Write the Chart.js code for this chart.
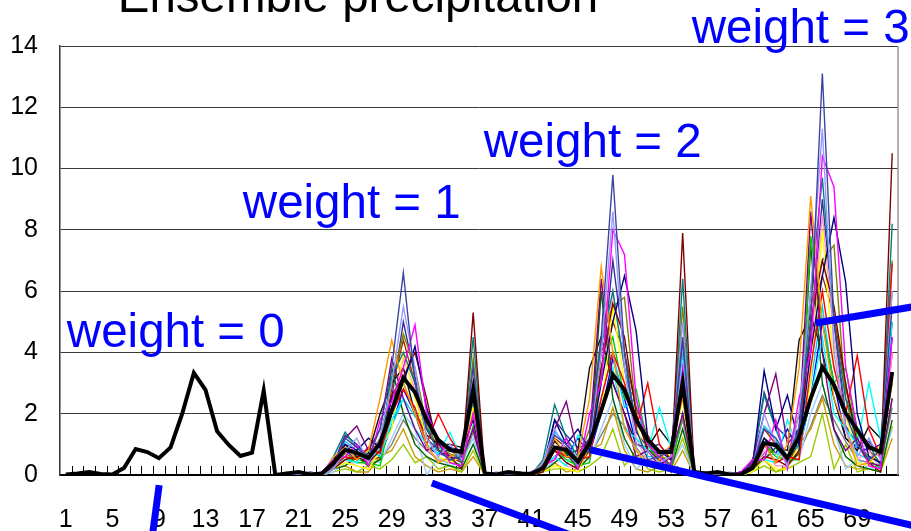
<!DOCTYPE html>
<html><head><meta charset="utf-8">
<script src="https://cdn.jsdelivr.net/npm/chart.js@4.4.1/dist/chart.umd.min.js"></script>
<style>html,body{margin:0;padding:0;background:#fff;overflow:hidden}#wrap{position:relative;width:911px;height:531px}</style>
</head><body><div id="wrap"><canvas id="c"></canvas></div>
<script>
// ---- data ----
const categories = ['1','2','3','4','5','6','7','8','9','10','11','12','13','14','15','16','17','18',
 '19','20','21','22','23','24','25','26','27','28','29','30','31','32','33','34','35','36',
 '37','38','39','40','41','42','43','44','45','46','47','48','49','50','51','52','53','54',
 '55','56','57','58','59','60','61','62','63','64','65','66','67','68','69','70','71','72'];
const shownTickEvery = 4;
const yTicks = [0,2,4,6,8,10,12,14];
const meanValues = [
 0.02,0.05,0.1,0.03,0.02,0.23,0.85,0.75,0.55,0.9,2.0,3.33,2.78,1.43,0.98,0.62,0.73,2.75,
 0,0.05,0.1,0.02,0.05,0.4,0.82,0.72,0.55,1.04,2.1,3.17,2.7,1.8,1.14,0.82,0.75,2.78,
 0.05,0.02,0.1,0.05,0.03,0.23,0.9,0.82,0.43,1.04,2.1,3.27,2.78,1.8,1.14,0.75,0.75,3.0,
 0.1,0.05,0.1,0.02,0.02,0.23,1.04,0.98,0.55,1.24,2.5,3.52,2.94,2.02,1.47,0.91,0.75,3.36];
const ensembleStartIndex = 18; // members begin at category 19
const memberColors = ['#3c46a0','#9999ff','#ff00ff','#ff9900','#800080','#000080','#800000','#008080',
 '#ff0000','#00ffff','#ffff00','#00cc00','#006400','#111111','#99ccff','#808000','#ff99cc','#993300',
 '#00ccff','#333399','#99cc00','#cc9900','#808080','#0000ff'];
const member01 = [0,0,0.1,0,0,0.3,1.2,0.9,0.6,1.5,3.5,6.6,3.0,1.5,0.8,0.5,0.6,3.5, 0,0,0,0.1,0,0.2,1.3,1.0,0.5,1.2,4.5,9.8,4.0,1.5,0.5,0.6,0.8,4.5, 0,0,0.1,0,0,0.3,1.5,1.2,0.6,1.5,5.0,13.1,5.0,2.0,1.0,0.5,0.8,5.5];
const member02 = [0,0,0,0.1,0,0.2,0.8,1.2,0.4,1.2,3.0,5.5,3.5,1.2,0.6,1.0,0.5,3.2, 0,0.1,0,0,0,0.4,1.5,0.8,0.3,1.0,4.0,8.6,3.5,1.0,0.8,0.4,0.6,5.0, 0,0,0,0.1,0,0.2,2.0,1.0,0.3,2.0,6.0,11.3,4.0,1.5,0.6,1.2,0.5,6.0];
const member03 = [0,0,0,0,0.1,0.5,0.6,1.0,0.3,1.8,2.4,3.5,4.9,2.0,1.2,0.4,0.3,2.0, 0,0,0.1,0,0,0.3,0.5,1.2,0.2,2.0,3.0,8.0,7.2,2.5,1.0,0.6,0.2,3.5, 0,0,0,0,0.1,0.5,0.5,1.8,0.2,2.5,4.0,10.4,9.4,3.5,1.5,0.3,0.2,4.5];
const member04 = [0,0.1,0,0,0,0.6,0.9,0.5,0.8,2.5,4.4,3.0,2.0,1.0,0.4,0.6,0.8,2.0, 0,0,0,0.1,0,0.4,1.2,0.6,0.6,2.5,6.8,4.0,1.5,0.8,0.3,0.5,1.0,2.5, 0,0,0.1,0,0,0.2,1.0,0.4,1.0,3.5,9.1,5.0,2.5,1.5,0.3,0.4,0.8,3.0];
const member05 = [0,0,0.1,0,0,0.4,1.2,1.6,0.8,1.5,3.8,2.5,1.5,0.8,1.0,0.6,0.5,1.5, 0,0,0,0,0.1,0.3,1.5,2.4,0.7,1.2,6.4,3.0,2.0,0.6,0.8,0.3,0.6,2.0, 0,0.1,0,0,0,0.4,2.0,3.3,1.0,1.5,8.6,4.0,1.5,0.8,1.2,0.4,0.3,2.5];
const member06 = [0,0,0,0.1,0,0.3,1.0,0.8,1.2,0.9,2.5,3.0,4.2,2.2,1.0,0.9,0.8,1.8, 0,0,0.1,0,0,0.2,1.8,1.0,1.5,0.8,3.0,5.0,6.5,4.7,1.2,0.8,0.5,2.8, 0,0,0,0,0.1,0.3,3.4,1.5,2.6,1.0,4.0,6.5,8.4,6.3,2.0,0.6,0.4,3.2];
const member07 = [0,0,0,0,0,0.2,0.5,0.6,0.4,0.8,2.6,3.2,4.0,2.5,0.8,0.6,0.2,5.3, 0,0,0,0,0,0.1,0.8,0.4,0.2,1.0,3.5,5.6,4.5,2.0,0.8,0.5,0.1,7.9, 0,0,0,0,0,0.2,0.6,0.5,0.3,0.8,5.0,7.0,5.5,3.0,1.0,0.4,0.1,10.5];
const member08 = [0,0,0.1,0,0,0.6,1.4,0.9,0.5,1.0,3.2,4.0,3.0,1.5,1.2,0.9,0.4,4.5, 0,0,0,0.1,0,0.5,2.3,1.2,0.6,0.8,4.2,6.0,3.5,1.8,1.0,0.6,0.3,6.4, 0,0,0,0,0.1,0.4,2.6,1.5,0.5,1.0,6.0,9.7,5.0,2.5,1.5,1.0,0.3,8.2];
const member09 = [0,0,0,0,0,0.3,0.6,0.5,0.9,0.7,2.0,2.8,2.2,1.0,2.0,1.2,0.6,3.0, 0,0,0,0,0,0.2,0.8,0.6,0.5,0.6,2.5,4.0,3.0,1.5,3.0,1.0,0.5,4.5, 0,0,0,0,0,0.3,1.0,0.4,0.6,0.5,3.5,6.0,3.5,2.0,3.9,1.5,0.6,6.9];
const member10 = [0,0,0,0,0,0.4,0.5,0.4,0.8,0.6,1.8,2.5,1.5,1.0,0.7,1.4,0.5,2.5, 0,0,0,0,0.1,0.3,0.6,0.3,1.3,0.9,2.0,3.5,1.5,1.2,0.8,2.2,0.9,3.5, 0,0,0,0,0,0.4,0.5,0.4,1.8,0.8,2.5,4.5,2.0,1.5,1.0,3.0,1.2,5.0];
const member11 = [0,0,0,0,0,0.2,0.4,0.3,0.2,0.8,1.5,4.0,2.5,1.2,0.6,0.4,0.6,2.2, 0,0,0,0,0,0.1,0.3,0.2,0.1,1.0,2.0,5.5,3.0,1.6,0.5,0.3,0.7,2.5, 0,0,0,0,0,0.1,0.5,0.2,0.2,1.0,3.0,8.0,3.5,2.0,0.4,0.3,1.0,3.0];
const member12 = [0,0,0,0,0,0.3,0.6,0.4,0.4,0.3,2.0,3.0,2.0,1.5,0.8,0.5,0.3,1.6, 0,0,0,0,0,0.2,0.8,0.5,0.3,0.4,3.5,4.5,2.5,2.8,1.0,0.4,0.2,2.0, 0,0,0,0,0,0.3,1.0,0.6,0.5,0.5,7.8,5.0,3.0,3.5,1.2,0.5,0.2,2.5];
const member13 = [0,0,0,0,0,0.2,0.3,0.6,0.3,0.5,3.5,2.0,1.0,0.6,0.4,0.3,0.2,1.0, 0,0,0,0,0,0.1,0.4,0.7,0.2,0.6,6.0,2.5,1.2,0.5,0.3,0.2,0.2,1.5, 0,0,0,0,0,0.2,0.5,0.9,0.4,0.7,7.5,3.0,1.5,0.6,0.3,0.2,0.1,1.8];
const member14 = [0,0,0,0,0,0.5,1.0,0.6,0.7,2.0,3.0,3.5,2.0,1.3,1.0,1.0,0.9,2.4, 0,0,0,0,0,0.4,1.1,0.7,0.8,3.5,4.5,3.0,2.0,1.0,0.9,1.5,1.0,3.0, 0,0,0,0,0,0.5,1.2,0.9,0.8,4.4,5.2,4.0,2.5,1.2,0.8,1.6,1.2,3.0];
const member15 = [0,0,0,0,0,0.1,0.4,0.6,0.5,0.4,1.2,2.0,1.5,0.0,0.6,0.3,0.4,1.2, 0,0,0,0,0,0.1,0.5,0.6,0.6,0.5,1.5,2.5,1.0,0.2,0.5,0.3,0.3,1.0, 0,0,0,0,0,0.1,0.6,0.7,0.6,0.5,2.0,3.0,1.5,0.2,0.5,0.2,0.3,1.5];
const member16 = [0,0,0,0,0,0.3,0.7,0.5,0.6,1.2,3.0,4.6,3.5,1.6,0.9,0.7,0.5,3.8, 0,0,0,0,0,0.3,0.9,0.6,0.5,1.5,4.5,5.5,5.8,2.0,0.8,0.6,0.5,5.5, 0,0,0,0,0,0.3,1.0,0.7,0.6,2.0,5.5,7.0,7.5,2.5,1.0,0.6,0.4,7.0];
const member17 = [0,0,0,0,0,0.2,0.5,0.3,0.2,1.0,2.2,3.8,2.8,0.9,0.5,0.5,0.3,2.6, 0,0,0,0,0,0.2,0.6,0.3,0.2,1.2,3.0,6.0,3.5,1.2,0.4,0.6,0.3,3.2, 0,0,0,0,0,0.2,0.8,0.3,0.3,1.5,4.0,8.5,4.5,1.5,0.5,0.8,0.2,4.0];
const member18 = [0,0,0,0,0,0.4,0.9,0.7,0.4,0.6,2.8,4.4,3.0,1.8,1.1,0.6,0.4,2.0, 0,0,0,0,0,0.3,1.2,0.9,0.3,0.8,4.0,5.0,4.0,2.2,1.3,0.7,0.3,3.0, 0,0,0,0,0,0.4,1.5,1.0,0.4,1.0,5.0,6.5,5.2,2.8,1.5,0.8,0.4,4.0];
const member19 = [0,0,0,0,0,0.5,1.1,0.8,0.4,0.9,1.6,2.5,1.9,2.0,0.5,0.5,0.7,2.5, 0,0,0,0,0,0.4,1.4,1.0,0.4,1.2,2.5,4.0,2.2,2.5,0.6,0.6,0.8,4.0, 0,0,0,0,0,0.5,1.6,1.2,0.3,1.6,3.0,5.5,2.8,3.0,0.7,0.5,0.9,6.0];
const member20 = [0,0,0,0,0,0.4,1.3,1.0,0.6,1.0,2.5,5.0,3.2,1.2,0.8,0.8,0.6,3.0, 0,0,0,0,0,0.3,1.8,1.3,0.9,1.0,3.2,7.0,4.0,1.4,0.9,1.0,0.5,4.2, 0,0,0,0,0,0.4,2.7,1.6,1.2,1.4,4.5,9.0,5.0,1.6,1.0,1.1,0.6,5.0];
const member21 = [0,0,0,0,0,0.1,0.2,0.1,0.3,0.2,0.5,1.0,0.4,0.6,0.2,0.3,0.1,0.8, 0,0,0,0,0,0.1,0.2,0.2,0.1,0.3,0.6,1.5,0.3,0.8,0.2,0.1,0.2,1.2, 0,0,0,0,0,0.1,0.3,0.1,0.2,0.4,0.6,2.0,0.2,1.0,0.1,0.2,0.1,1.6];
const member22 = [0,0,0,0,0,0.2,0.3,0.1,0.1,0.6,0.8,1.5,0.6,0.3,0.1,0.2,0.1,0.6, 0,0,0,0,0,0.1,0.4,0.1,0.2,0.8,1.0,2.2,0.8,0.2,0.1,0.3,0.1,0.8, 0,0,0,0,0,0.2,0.5,0.1,0.3,1.0,1.5,2.5,1.0,0.3,0.2,0.2,0.1,1.2];
const member23 = [0,0,0,0,0,0.3,0.5,0.7,0.3,0.5,1.0,1.8,1.2,0.8,0.5,0.4,0.3,1.4, 0,0,0,0,0,0.2,0.6,0.9,0.2,0.6,1.3,2.0,1.6,0.9,0.4,0.3,0.4,1.8, 0,0,0,0,0,0.3,0.7,1.1,0.3,0.7,1.6,2.6,1.8,1.1,0.5,0.4,0.3,2.2];
const member24 = [0,0,0,0,0,0.4,0.8,0.5,0.9,0.6,1.6,2.8,2.0,0.9,0.7,0.6,0.8,2.6, 0,0,0,0,0,0.3,0.9,0.6,1.2,0.7,2.0,3.8,2.5,1.0,0.8,0.7,0.9,3.2, 0,0,0,0,0,0.3,1.2,0.7,1.5,0.8,2.5,5.0,3.0,1.2,0.9,0.8,1.0,4.5];
const ensembleMembers = [member01,member02,member03,member04,member05,member06,member07,member08,member09,member10,member11,member12,
 member13,member14,member15,member16,member17,member18,member19,member20,member21,member22,member23,member24];

// annotations (category index, value units)
const titleText = 'Ensemble precipitation';
const weightLabels = ['weight = 0','weight = 1','weight = 2','weight = 3'];
const weightLabelAnchors = [[0.09,4.18],[15.21,8.39],[35.91,10.38],[53.78,14.1]];
const pointerLines = [[8.02,-0.33,7.39,-2.12],[31.45,-0.26,44.5,-2.12],[45.1,0.82,74.23,-1.78],[64.44,4.96,74.23,5.58]];

// ---- chart ----
const datasets = [{
  label: 'mean', data: meanValues, borderColor: '#000', borderWidth: 4,
  pointRadius: 0, tension: 0, fill: false, borderJoinStyle: 'miter'
}];
ensembleMembers.forEach((m, i) => {
  datasets.push({
    label: 'member ' + (i + 1),
    data: new Array(ensembleStartIndex).fill(null).concat(m),
    borderColor: memberColors[i % memberColors.length], borderWidth: 1.4,
    pointRadius: 0, tension: 0, fill: false
  });
});

const decor = {
  id: 'decor',
  beforeDatasetsDraw(chart) {
    const {ctx, chartArea: a} = chart;
    const n = categories.length, w = (a.right - a.left) / n;
    ctx.save();
    ctx.strokeStyle = '#000'; ctx.lineWidth = 1;
    for (let i = 1; i < n; i++) {
      const px = Math.round(a.left + i * w) + 0.5;
      ctx.beginPath(); ctx.moveTo(px, a.bottom); ctx.lineTo(px, a.bottom - 9); ctx.stroke();
    }
    ctx.strokeStyle = '#999'; ctx.lineWidth = 1.5;
    ctx.beginPath(); ctx.moveTo(a.right, a.top); ctx.lineTo(a.right, a.bottom); ctx.stroke();
    ctx.restore();
  },
  afterDraw(chart) {
    const {ctx, scales: {x, y}} = chart;
    ctx.save();
    ctx.strokeStyle = '#0000ff'; ctx.lineWidth = 7; ctx.lineCap = 'butt';
    pointerLines.forEach(l => {
      ctx.beginPath();
      ctx.moveTo(x.getPixelForValue(l[0]), y.getPixelForValue(l[1]));
      ctx.lineTo(x.getPixelForValue(l[2]), y.getPixelForValue(l[3]));
      ctx.stroke();
    });
    ctx.fillStyle = '#0000ff';
    ctx.font = '47.5px "Liberation Sans", Arial, sans-serif';
    ctx.textBaseline = 'alphabetic'; ctx.textAlign = 'left';
    weightLabels.forEach((t, i) => {
      ctx.fillText(t, x.getPixelForValue(weightLabelAnchors[i][0]), y.getPixelForValue(weightLabelAnchors[i][1]));
    });
    ctx.fillStyle = '#000'; ctx.textAlign = 'center';
    ctx.fillText(titleText, 358, 12);
    ctx.restore();
  }
};

new Chart(document.getElementById('c'), {
  type: 'line',
  data: { labels: categories, datasets },
  options: {
    responsive: true, maintainAspectRatio: false, animation: false,
    layout: { padding: { top: 46, right: 13, left: 0, bottom: 0 } },
    plugins: { legend: { display: false }, tooltip: { enabled: false }, title: { display: false } },
    scales: {
      x: {
        type: 'category', offset: true,
        grid: { display: true, drawOnChartArea: false, drawTicks: true, tickLength: 30, tickColor: 'rgba(0,0,0,0)' },
        border: { display: true, color: '#000', width: 2 },
        ticks: {
          autoSkip: false, maxRotation: 0, minRotation: 0, padding: 0, color: '#000',
          font: { family: '"Liberation Sans", Arial, sans-serif', size: 25 },
          callback: (v, i) => (i % shownTickEvery === 0 ? categories[i] : '')
        },
        afterFit: s => { s.height = 56; s.paddingRight = 0; s.paddingLeft = 0; }
      },
      y: {
        min: 0, max: 14,
        afterBuildTicks: s => { s.ticks = yTicks.map(v => ({ value: v })); },
        grid: { color: '#3a3a3a', lineWidth: 1, drawTicks: false },
        border: { display: true, color: '#333', width: 1.5 },
        ticks: { padding: 22, color: '#000', font: { family: '"Liberation Sans", Arial, sans-serif', size: 25 } },
        afterFit: s => { s.width = 60; }
      }
    }
  },
  plugins: [decor]
});
</script></body></html>
